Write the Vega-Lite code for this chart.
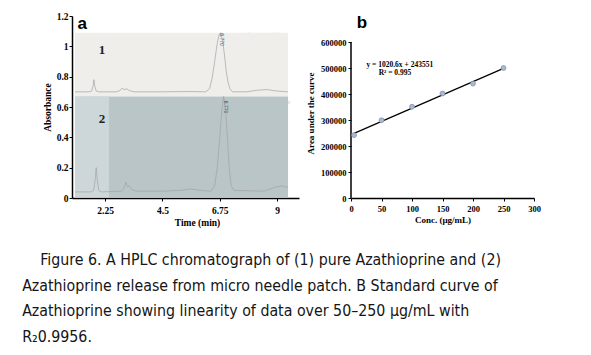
{
  "$schema": "https://vega.github.io/schema/vega-lite/v6.json",
  "background": "white",
  "padding": {"left": 22, "top": 11, "right": 0, "bottom": 0},
  "spacing": 7,
  "config": {"view": {"stroke": null}, "axis": {"labelOverlap": false, "labelFlush": false}},
  "title": {
    "text": [
      "\u200b\u00a0\u00a0\u00a0\u00a0Figure 6. A HPLC chromatograph of (1) pure Azathioprine and (2)",
      "Azathioprine release from micro needle patch. B Standard curve of",
      "Azathioprine showing linearity of data over 50\u2013250 \u00b5g/mL with",
      "R\u20820.9956."
    ],
    "orient": "bottom",
    "anchor": "start",
    "frame": "bounds",
    "dx": -20,
    "offset": 26,
    "font": "DejaVu Sans Condensed, Liberation Sans, sans-serif",
    "fontSize": 15.8,
    "fontWeight": "normal",
    "color": "#151515",
    "lineHeight": 25.5,
    "align": "left"
  },
  "datasets": {
    "bg": [
      {"zone": "pure", "t0": 1.07, "t1": 9.43, "a0": 0.67, "a1": 1.09},
      {"zone": "release", "t0": 1.07, "t1": 9.43, "a0": 0.005, "a1": 0.67},
      {"zone": "edge", "t0": 1.07, "t1": 2.4, "a0": 0.005, "a1": 0.67}
    ],
    "traces": [
      {"trace": "1", "t": 1.07, "a": 0.70},
      {"trace": "1", "t": 1.6, "a": 0.70},
      {"trace": "1", "t": 1.72, "a": 0.705},
      {"trace": "1", "t": 1.78, "a": 0.74},
      {"trace": "1", "t": 1.81, "a": 0.78},
      {"trace": "1", "t": 1.84, "a": 0.74},
      {"trace": "1", "t": 1.9, "a": 0.705},
      {"trace": "1", "t": 2.0, "a": 0.70},
      {"trace": "1", "t": 2.7, "a": 0.70},
      {"trace": "1", "t": 2.85, "a": 0.71},
      {"trace": "1", "t": 2.92, "a": 0.725},
      {"trace": "1", "t": 3.0, "a": 0.714},
      {"trace": "1", "t": 3.1, "a": 0.72},
      {"trace": "1", "t": 3.2, "a": 0.708},
      {"trace": "1", "t": 3.4, "a": 0.70},
      {"trace": "1", "t": 4.5, "a": 0.70},
      {"trace": "1", "t": 5.5, "a": 0.702},
      {"trace": "1", "t": 6.2, "a": 0.70},
      {"trace": "1", "t": 6.35, "a": 0.72},
      {"trace": "1", "t": 6.45, "a": 0.79},
      {"trace": "1", "t": 6.55, "a": 0.90},
      {"trace": "1", "t": 6.65, "a": 1.02},
      {"trace": "1", "t": 6.73, "a": 1.08},
      {"trace": "1", "t": 6.78, "a": 1.09},
      {"trace": "1", "t": 6.85, "a": 1.05},
      {"trace": "1", "t": 6.93, "a": 0.95},
      {"trace": "1", "t": 7.0, "a": 0.84},
      {"trace": "1", "t": 7.08, "a": 0.76},
      {"trace": "1", "t": 7.15, "a": 0.72},
      {"trace": "1", "t": 7.25, "a": 0.70},
      {"trace": "1", "t": 7.8, "a": 0.70},
      {"trace": "1", "t": 8.2, "a": 0.71},
      {"trace": "1", "t": 8.6, "a": 0.715},
      {"trace": "1", "t": 9.0, "a": 0.705},
      {"trace": "1", "t": 9.43, "a": 0.70},
      {"trace": "2", "t": 1.07, "a": 0.04},
      {"trace": "2", "t": 1.7, "a": 0.04},
      {"trace": "2", "t": 1.8, "a": 0.05},
      {"trace": "2", "t": 1.86, "a": 0.12},
      {"trace": "2", "t": 1.9, "a": 0.20},
      {"trace": "2", "t": 1.94, "a": 0.12},
      {"trace": "2", "t": 2.0, "a": 0.05},
      {"trace": "2", "t": 2.1, "a": 0.04},
      {"trace": "2", "t": 2.9, "a": 0.045},
      {"trace": "2", "t": 3.0, "a": 0.07},
      {"trace": "2", "t": 3.06, "a": 0.105},
      {"trace": "2", "t": 3.12, "a": 0.075},
      {"trace": "2", "t": 3.2, "a": 0.08},
      {"trace": "2", "t": 3.3, "a": 0.055},
      {"trace": "2", "t": 3.5, "a": 0.045},
      {"trace": "2", "t": 4.5, "a": 0.045},
      {"trace": "2", "t": 5.2, "a": 0.05},
      {"trace": "2", "t": 5.6, "a": 0.06},
      {"trace": "2", "t": 6.0, "a": 0.05},
      {"trace": "2", "t": 6.4, "a": 0.045},
      {"trace": "2", "t": 6.55, "a": 0.08},
      {"trace": "2", "t": 6.65, "a": 0.2},
      {"trace": "2", "t": 6.75, "a": 0.4},
      {"trace": "2", "t": 6.83, "a": 0.58},
      {"trace": "2", "t": 6.9, "a": 0.67},
      {"trace": "2", "t": 6.97, "a": 0.6},
      {"trace": "2", "t": 7.05, "a": 0.4},
      {"trace": "2", "t": 7.12, "a": 0.2},
      {"trace": "2", "t": 7.2, "a": 0.08},
      {"trace": "2", "t": 7.3, "a": 0.05},
      {"trace": "2", "t": 8.5, "a": 0.045},
      {"trace": "2", "t": 8.9, "a": 0.07},
      {"trace": "2", "t": 9.2, "a": 0.08},
      {"trace": "2", "t": 9.43, "a": 0.07}
    ],
    "labelsA": [
      {"label": "1", "t": 2.13, "a": 0.975},
      {"label": "2", "t": 2.13, "a": 0.52}
    ],
    "detectors": [
      {"label": "Detector A 214nm", "t": 8.6, "a": 1.08, "panel": "pure"},
      {"label": "Detector A 214nm", "t": 8.72, "a": 0.635, "panel": "release"}
    ],
    "peaks": [
      {"label": "6.770", "t": 6.82, "a": 1.045},
      {"label": "6.770", "t": 6.98, "a": 0.6}
    ],
    "curve": [
      {"conc": 5, "area": 242000},
      {"conc": 50, "area": 299000},
      {"conc": 100, "area": 351000},
      {"conc": 150, "area": 402000},
      {"conc": 200, "area": 440000},
      {"conc": 250, "area": 500000}
    ],
    "fit": [
      {"conc": 5, "area": 248654},
      {"conc": 250, "area": 498701}
    ],
    "eq": [
      {"label": "y = 1020.6x + 243551", "conc": 80, "area": 512000},
      {"label": "R\u00b2 = 0.995", "conc": 72, "area": 481000}
    ]
  },
  "hconcat": [
    {
      "width": 227,
      "height": 182,
      "layer": [
        {
          "data": {"name": "bg"},
          "mark": {"type": "rect"},
          "encoding": {
            "x": {
              "field": "t0", "type": "quantitative",
              "scale": {"domain": [0.95, 9.86], "nice": false, "zero": false},
              "axis": {
                "title": "Time (min)", "values": [2.25, 4.5, 6.75, 9], "format": ".3~g",
                "labelOverlap": false, "tickCount": 20,
                "grid": false, "domainColor": "#000", "domainWidth": 1.5, "tickColor": "#000",
                "tickSize": 3, "labelPadding": 4, "labelColor": "#000",
                "labelFont": "Liberation Serif", "labelFontWeight": "bold", "labelFontSize": 9.5,
                "titleFont": "Liberation Serif", "titleFontWeight": "bold", "titleFontSize": 9.5,
                "titleColor": "#000", "titlePadding": 3, "titleX": 125
              }
            },
            "x2": {"field": "t1"},
            "y": {
              "field": "a0", "type": "quantitative",
              "scale": {"domain": [0, 1.2], "nice": false},
              "axis": {
                "title": "Absorbance", "values": [0, 0.2, 0.4, 0.6, 0.8, 1, 1.2], "format": ".3~g",
                "labelOverlap": false, "tickCount": 20,
                "grid": false, "domainColor": "#000", "domainWidth": 1.5, "tickColor": "#000",
                "tickSize": 3, "labelPadding": 1, "labelColor": "#000",
                "labelFont": "Liberation Serif", "labelFontWeight": "bold", "labelFontSize": 9.5,
                "titleFont": "Liberation Serif", "titleFontWeight": "bold", "titleFontSize": 9.5,
                "titleColor": "#000", "titlePadding": 4
              }
            },
            "y2": {"field": "a1"},
            "color": {
              "field": "zone", "type": "nominal",
              "scale": {"domain": ["pure", "release", "edge"], "range": ["#efeeeb", "#b9c5c7", "#cdd7d9"]},
              "legend": null
            }
          }
        },
        {
          "data": {"name": "traces"},
          "mark": {"type": "line", "strokeWidth": 0.7, "color": "#a2a4a4"},
          "encoding": {
            "x": {"field": "t", "type": "quantitative"},
            "y": {"field": "a", "type": "quantitative"},
            "detail": {"field": "trace", "type": "nominal"}
          }
        },
        {
          "data": {"name": "labelsA"},
          "mark": {"type": "text", "font": "Liberation Serif", "fontWeight": "bold", "fontSize": 13, "color": "#222"},
          "encoding": {
            "x": {"field": "t", "type": "quantitative"},
            "y": {"field": "a", "type": "quantitative"},
            "text": {"field": "label"}
          }
        },
        {
          "data": {"values": [{"label": "a", "t": 1.35, "a": 1.15}]},
          "mark": {"type": "text", "font": "Liberation Sans", "fontWeight": "bold", "fontSize": 17, "color": "#000"},
          "encoding": {
            "x": {"field": "t", "type": "quantitative"},
            "y": {"field": "a", "type": "quantitative"},
            "text": {"field": "label"}
          }
        },
        {
          "data": {"name": "detectors"},
          "mark": {"type": "text", "font": "Liberation Sans", "fontSize": 5, "align": "center"},
          "encoding": {
            "x": {"field": "t", "type": "quantitative"},
            "y": {"field": "a", "type": "quantitative"},
            "text": {"field": "label"},
            "color": {"field": "panel", "type": "nominal", "scale": {"domain": ["pure", "release"], "range": ["#9a9a9a", "#333"]}, "legend": null}
          }
        },
        {
          "data": {"name": "peaks"},
          "mark": {"type": "text", "font": "Liberation Sans", "fontSize": 5, "angle": 90, "color": "#444"},
          "encoding": {
            "x": {"field": "t", "type": "quantitative"},
            "y": {"field": "a", "type": "quantitative"},
            "text": {"field": "label"}
          }
        }
      ]
    },
    {
      "width": 183,
      "height": 182,
      "layer": [
        {
          "data": {"values": [{"conc": 0, "v0": 0, "v1": 600000}]},
          "mark": {"type": "rule", "color": "#000", "strokeWidth": 1.5},
          "encoding": {
            "x": {
              "field": "conc", "type": "quantitative",
              "scale": {"domain": [0, 300], "nice": false},
              "axis": {
                "title": "Conc. (\u00b5g/mL)", "values": [0, 50, 100, 150, 200, 250, 300], "format": "d",
                "labelOverlap": false, "tickCount": 20,
                "grid": false, "domainColor": "#000", "domainWidth": 1.5, "tickColor": "#000",
                "tickSize": 3, "labelPadding": 3, "labelColor": "#000",
                "labelFont": "Liberation Serif", "labelFontWeight": "bold", "labelFontSize": 8.5,
                "titleFont": "Liberation Serif", "titleFontWeight": "bold", "titleFontSize": 9,
                "titleColor": "#000", "titlePadding": 3
              }
            },
            "y": {
              "field": "v0", "type": "quantitative",
              "scale": {"domain": [0, 700000], "nice": false},
              "axis": {
                "title": "Area under the curve", "values": [0, 100000, 200000, 300000, 400000, 500000, 600000], "format": "d",
                "labelOverlap": false, "tickCount": 20,
                "grid": false, "domain": false, "tickColor": "#000",
                "tickSize": 3, "labelPadding": 2, "labelColor": "#000",
                "labelFont": "Liberation Serif", "labelFontWeight": "bold", "labelFontSize": 8.5,
                "titleFont": "Liberation Serif", "titleFontWeight": "bold", "titleFontSize": 9,
                "titleColor": "#000", "titlePadding": 5, "titleY": 97
              }
            },
            "y2": {"field": "v1"}
          }
        },
        {
          "data": {"name": "fit"},
          "mark": {"type": "line", "color": "#000", "strokeWidth": 1.2},
          "encoding": {
            "x": {"field": "conc", "type": "quantitative"},
            "y": {"field": "area", "type": "quantitative"}
          }
        },
        {
          "data": {"name": "curve"},
          "mark": {"type": "point", "shape": "circle", "filled": true, "size": 24, "color": "#aeb9d0", "stroke": "#8390ad", "strokeWidth": 0.8, "opacity": 1},
          "encoding": {
            "x": {"field": "conc", "type": "quantitative"},
            "y": {"field": "area", "type": "quantitative"}
          }
        },
        {
          "data": {"name": "eq"},
          "mark": {"type": "text", "font": "Liberation Serif", "fontWeight": "bold", "fontSize": 7.5, "color": "#000"},
          "encoding": {
            "x": {"field": "conc", "type": "quantitative"},
            "y": {"field": "area", "type": "quantitative"},
            "text": {"field": "label"}
          }
        },
        {
          "data": {"values": [{"label": "b", "conc": 18, "area": 672000}]},
          "mark": {"type": "text", "font": "Liberation Sans", "fontWeight": "bold", "fontSize": 17, "color": "#000"},
          "encoding": {
            "x": {"field": "conc", "type": "quantitative"},
            "y": {"field": "area", "type": "quantitative"},
            "text": {"field": "label"}
          }
        }
      ]
    }
  ]
}
